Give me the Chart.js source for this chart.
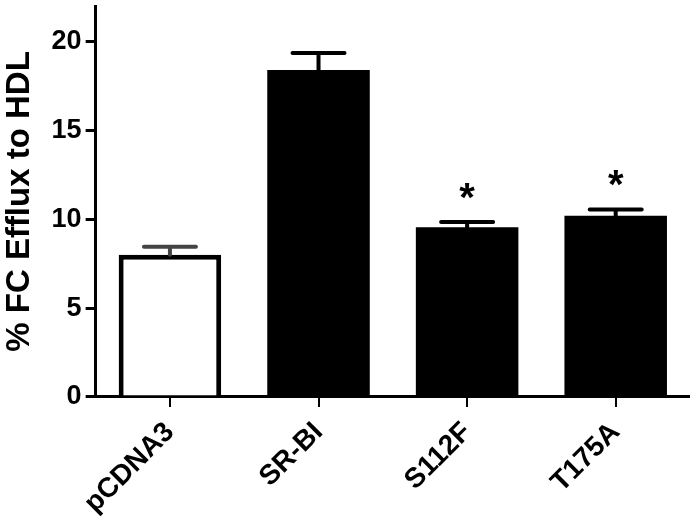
<!DOCTYPE html>
<html>
	<head>
	<meta charset="utf-8">
	<title>FC efflux</title>
		<script src="https://cdn.jsdelivr.net/npm/chart.js@4.4.0/dist/chart.umd.min.js"></script>
		<style>
			body { margin: 0; background: #fff; }
		</style>
	</head>
	<body>
		<canvas id="myChart" width="690" height="529"></canvas>
		<script>
			// values
			const groups = ['pCDNA3', 'SR-BI', 'S112F', 'T175A'];
			const efflux = [8.0, 18.4, 9.55, 10.2];
			const errUp = [0.45, 0.95, 0.3, 0.35];
			const signif = ['', '', '*', '*'];
			const yTicks = [0, 5, 10, 15, 20];
			const yMax = 22;

			const fillColors = ['#ffffff', '#000000', '#000000', '#000000'];
			const errColors = ['#444444', '#000000', '#000000', '#000000'];
			const fontFam = '"Liberation Sans", Arial, sans-serif';

			// draws error bars + asterisks on top of bars
			const errorBarPlugin = {
				id: 'errorBars',
				afterDatasetsDraw(chart) {
					const ctx = chart.ctx;
					const x = chart.scales.x;
					const y = chart.scales.y;
					ctx.save();
					for (let i = 0; i < groups.length; i++) {
						const cx = x.getPixelForValue(i);
						const top = y.getPixelForValue(efflux[i] + errUp[i]);
						const base = y.getPixelForValue(efflux[i]);
						ctx.strokeStyle = errColors[i];
						ctx.lineWidth = 4;
						ctx.lineCap = 'round';
						ctx.beginPath();
						ctx.moveTo(cx, base);
						ctx.lineTo(cx, top);
						ctx.moveTo(cx - 26, top);
						ctx.lineTo(cx + 26, top);
						ctx.stroke();
						if (signif[i]) {
							ctx.fillStyle = '#000';
							ctx.font = 'bold 40px ' + fontFam;
							ctx.textAlign = 'center';
							ctx.textBaseline = 'middle';
							ctx.fillText(signif[i], cx, top - 22);
						}
					}
					ctx.restore();
				}
			};

			function isTopTick(c) {
				return c.tick && c.tick.value === yMax;
			}

			let ctx = document.getElementById('myChart').getContext('2d');
			let myChart = new Chart(ctx, {
				type: 'bar',
				data: {
					labels: groups,
					datasets: [{
						data: efflux,
						backgroundColor: fillColors,
						borderColor: '#000000',
						borderWidth: [5, 0, 0, 0],
						barPercentage: 0.69,
						categoryPercentage: 1.0
					}]
				},
				plugins: [errorBarPlugin],
				options: {
					responsive: false,
					animation: false,
					layout: { padding: { top: 6, right: 0, left: 0, bottom: 0 } },
					plugins: {
						legend: { display: false },
						tooltip: { enabled: false }
					},
					scales: {
						x: {
							grid: { display: true, offset: false, drawOnChartArea: false, drawTicks: true, tickLength: 10, color: '#000', lineWidth: 2 },
							border: { color: '#000', width: 3 },
							ticks: {
								color: '#000',
								maxRotation: 45,
								minRotation: 45,
								padding: 9,
								font: { family: fontFam, size: 28, weight: 'bold' }
							}
						},
						y: {
							min: 0,
							max: yMax,
							afterBuildTicks: function (axis) {
								// extra invisible tick at the axis top so no label room is kept there
								axis.ticks = yTicks.concat([yMax]).map(v => ({ value: v }));
							},
							grid: {
								display: true, drawOnChartArea: false, drawTicks: true, tickLength: 10, lineWidth: 3,
								color: c => isTopTick(c) ? 'rgba(0,0,0,0)' : '#000'
							},
							border: { color: '#000', width: 3 },
							ticks: {
								color: '#000',
								padding: 4,
								callback: function (v) { return yTicks.includes(v) ? String(v) : ''; },
								font: c => ({ family: fontFam, size: isTopTick(c) ? 1 : 27, weight: 'bold' })
							},
							title: {
								display: true,
								text: '% FC Efflux to HDL',
								color: '#000',
								padding: { top: 0, bottom: 8 },
								font: { family: fontFam, size: 33, weight: 'bold' }
							}
						}
					}
				}
			});
		</script>
	</body>
</html>
